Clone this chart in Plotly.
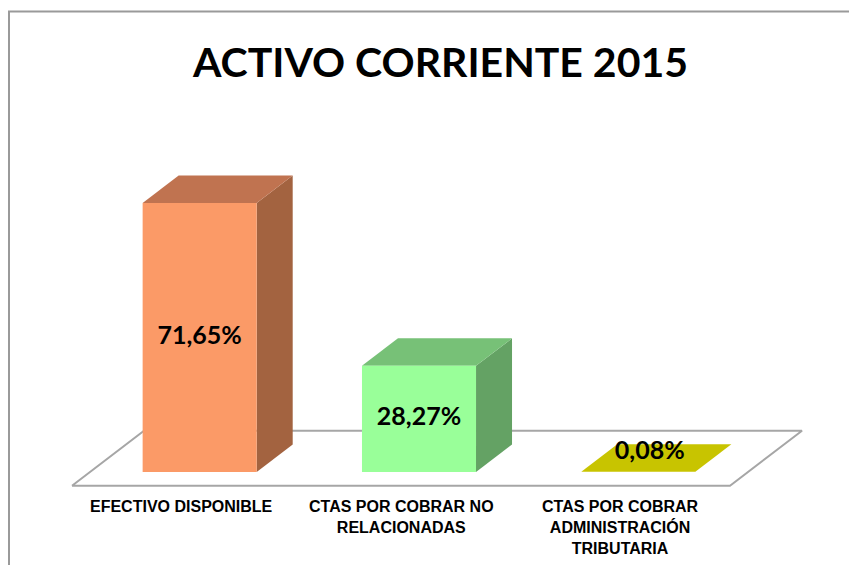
import plotly.graph_objects as go

# ---------------- data ----------------
categories = [
    "EFECTIVO DISPONIBLE",
    "CTAS POR COBRAR NO<br>RELACIONADAS",
    "CTAS POR COBRAR<br>ADMINISTRACIÓN<br>TRIBUTARIA",
]
values = [71.65, 28.27, 0.08]
value_labels = ["71,65%", "28,27%", "0,08%"]
title_text = "ACTIVO CORRIENTE 2015"

# ---------------- styles ----------------
front_colors = ["#FB9A67", "#99FF99", "#C8C400"]
top_colors = ["#C07350", "#77C177", "#C8C400"]
side_colors = ["#A36340", "#64A264", "#A8A400"]
FLOOR_LINE = "#A6A6A6"

# 3D projection (depth offset in data units)
BAR_W = 0.52
DX = 0.3283      # x shift for full floor depth
DY = 14.65       # y shift for full floor depth
D0, D1 = 0.25, 0.75   # bar depth span within floor


def proj(x, v, d):
    return x + DX * d, v + DY * d


def poly(points):
    xs, ys = zip(*[proj(*p) for p in points])
    return list(xs) + [xs[0]], list(ys) + [ys[0]]


fig = go.Figure()

# floor
n = len(categories)
fx, fy = poly([(-0.5, 0, 0), (n - 0.5, 0, 0), (n - 0.5, 0, 1), (-0.5, 0, 1)])
fig.add_trace(go.Scatter(x=fx, y=fy, mode="lines", fill="toself",
                         fillcolor="white", line=dict(color=FLOOR_LINE, width=2),
                         hoverinfo="skip", showlegend=False))

lab_x, lab_y = [], []
for i, v in enumerate(values):
    x0, x1 = i - BAR_W / 2, i + BAR_W / 2
    faces = [
        ([(x1, 0, D0), (x1, 0, D1), (x1, v, D1), (x1, v, D0)], side_colors[i]),
        ([(x0, v, D0), (x1, v, D0), (x1, v, D1), (x0, v, D1)], top_colors[i]),
        ([(x0, 0, D0), (x1, 0, D0), (x1, v, D0), (x0, v, D0)], front_colors[i]),
    ]
    for pts, col in faces:
        px, py = poly(pts)
        fig.add_trace(go.Scatter(x=px, y=py, mode="lines", fill="toself",
                                 fillcolor=col, line=dict(width=0, color=col),
                                 hoverinfo="skip", showlegend=False))
    if v > 8:
        lx, ly = proj(i, v / 2, D0)
    else:
        lx, ly = proj(i - 0.03, v + 1.5, 0.5)
    lab_x.append(lx)
    lab_y.append(ly)

fig.add_trace(go.Scatter(x=lab_x, y=lab_y, mode="text", text=value_labels,
                         textposition="middle center",
                         textfont=dict(family="Lato", size=25, color="black", weight="bold"),
                         hoverinfo="skip", showlegend=False))

annotations = []
for i, c in enumerate(categories):
    annotations.append(dict(x=i, y=0, xref="x", yref="y", text="<b>%s</b>" % c,
                            showarrow=False, xanchor="center", yanchor="top",
                            yshift=-10, align="center",
                            font=dict(family="Liberation Sans, Arial", size=16, color="black")))

annotations.append(dict(x=432 / 857, y=1 - 53 / 565, xref="paper", yref="paper",
                        text="<b>%s</b>" % title_text, showarrow=False,
                        xanchor="center", yanchor="middle",
                        font=dict(family="Lato", size=41, color="black")))

fig.update_layout(
    width=857, height=565,
    margin=dict(l=0, r=0, t=0, b=0),
    paper_bgcolor="white", plot_bgcolor="white",
    xaxis=dict(range=[-0.7918, 3.1155], visible=False, fixedrange=True),
    yaxis=dict(range=[-23.24, 127.23], visible=False, fixedrange=True),
    annotations=annotations,
    shapes=[dict(type="rect", xref="paper", yref="paper",
                 x0=1 / 857, x1=1.05, y0=-0.05, y1=1 - 3.5 / 565,
                 line=dict(color="#9A9A9A", width=2), fillcolor="rgba(0,0,0,0)")],
)

fig.write_html("out.html")
